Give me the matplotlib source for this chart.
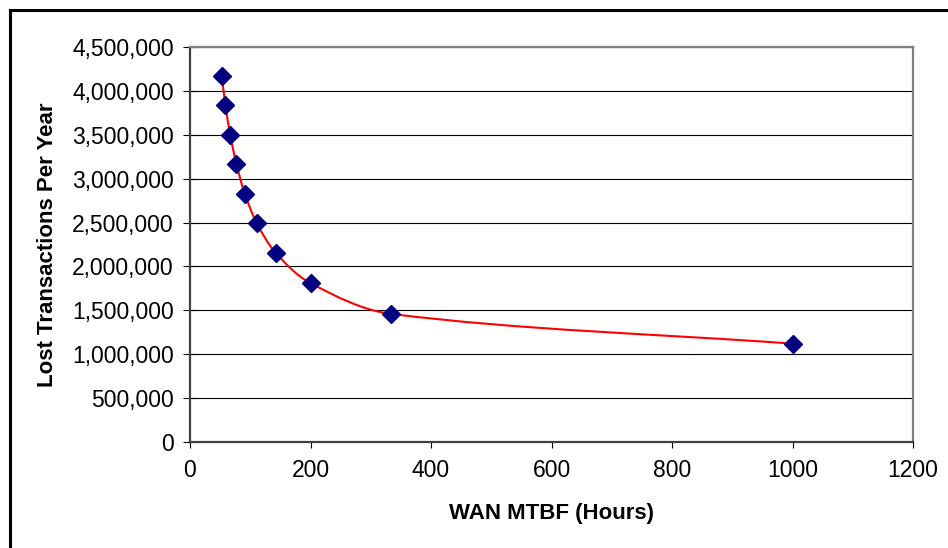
import numpy as np
import matplotlib
matplotlib.use("Agg")
import matplotlib.pyplot as plt
from matplotlib.path import Path
from matplotlib.patches import PathPatch
from matplotlib.lines import Line2D
from matplotlib.ticker import FuncFormatter

plt.rcParams['font.family'] = ['Liberation Sans', 'DejaVu Sans']

# data
mtbf = [52.6, 58.8, 66.7, 76.9, 90.9, 111.1, 142.9, 200.0, 333.3, 1000.0]
lost = [4170000, 3840000, 3500000, 3170000, 2830000,
        2490000, 2150000, 1810000, 1460000, 1120000]

x_ticks = [0, 200, 400, 600, 800, 1000, 1200]
y_ticks = [0, 500000, 1000000, 1500000, 2000000, 2500000,
           3000000, 3500000, 4000000, 4500000]


def smooth_path(ax, xs, ys):
    # smoothed line like Excel : cubic bezier, tangents scaled by chord
    # length, computed in pixel space then brought back to data space
    P = ax.transData.transform(np.column_stack([xs, ys]))
    n = len(P)
    verts = [P[0]]
    codes = [Path.MOVETO]
    for i in range(n - 1):
        p0 = P[i - 1] if i > 0 else P[i]
        p1 = P[i]
        p2 = P[i + 1]
        p3 = P[i + 2] if i + 2 < n else P[i + 1]
        L = np.hypot(*(p2 - p1)) / 3
        d1 = p2 - p0
        d2 = p3 - p1
        c1 = p1 + d1 / np.hypot(*d1) * L
        c2 = p2 - d2 / np.hypot(*d2) * L
        verts += [c1, c2, p2]
        codes += [Path.CURVE4] * 3
    verts = ax.transData.inverted().transform(np.array(verts))
    return Path(verts, codes)


fig = plt.figure(figsize=(9.48, 5.48), dpi=100)
ax = fig.add_axes([190/948, 1-442/548, (913-190)/948, (442-47)/548])

ax.set_xlim(0, 1200)
ax.set_ylim(0, 4500000)
ax.set_xticks(x_ticks)
ax.set_yticks(y_ticks)
ax.yaxis.set_major_formatter(FuncFormatter(lambda v, p: "{:,.0f}".format(v)))

ax.grid(axis='y', color='black', linewidth=0.8, zorder=0)
ax.set_axisbelow(True)

ax.add_patch(PathPatch(smooth_path(ax, mtbf, lost), fill=False,
                       edgecolor='#ff0000', linewidth=1.5, zorder=2))
ax.plot(mtbf, lost, linestyle='none', marker='D', markersize=9.5,
        color='#000080', zorder=3)

for s in ['left', 'bottom']:
    ax.spines[s].set_color('#404040')
    ax.spines[s].set_linewidth(1.6)
for s in ['top', 'right']:
    ax.spines[s].set_color('#808080')
    ax.spines[s].set_linewidth(1.6)

ax.tick_params(axis='y', direction='inout', length=9.5, width=0.8,
               pad=7, labelsize=16.5, colors='black')
ax.tick_params(axis='x', direction='out', length=4.5, width=0.8,
               pad=8, labelsize=16.5, colors='black')

ax.set_xlabel("WAN MTBF (Hours)", fontsize=16, fontweight='bold', labelpad=15)
ax.set_ylabel("Lost Transactions Per Year", fontsize=16, fontweight='bold',
              labelpad=10)

# outer chart frame (only left and top visible)
fig.add_artist(Line2D([10/948, 10/948], [0, 1-10/548], color='black',
                      linewidth=2.2, transform=fig.transFigure))
fig.add_artist(Line2D([10/948, 1], [1-10/548, 1-10/548], color='black',
                      linewidth=2.2, transform=fig.transFigure))

fig.savefig("out.png", dpi=100)
